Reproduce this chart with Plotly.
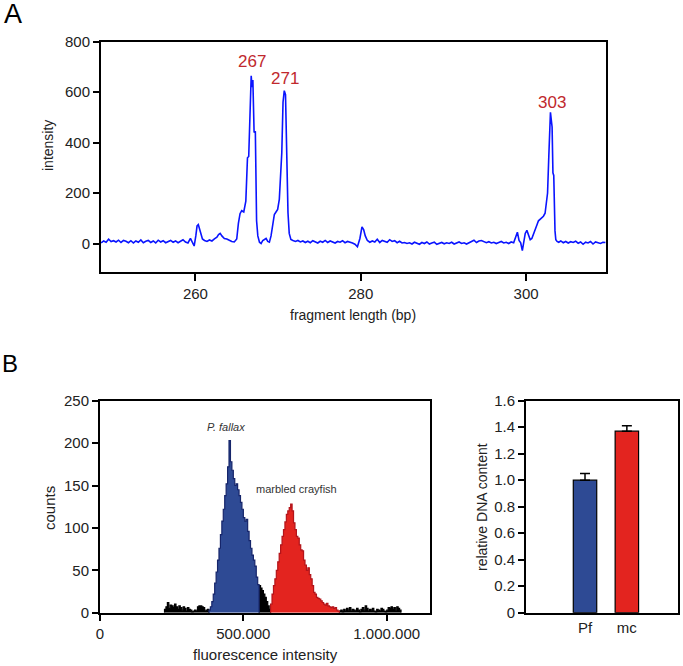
import plotly.graph_objects as go

# ---------------- Panel A data: capillary electrophoresis trace ----------------
frag_bp = [
    248.6, 248.9, 249.2, 249.5, 249.8, 250.1, 250.4, 250.7, 251.0, 251.3, 251.6, 251.9,
    252.2, 252.5, 252.8, 253.1, 253.4, 253.7, 254.0, 254.3, 254.6, 254.9, 255.2, 255.5,
    255.8, 256.1, 256.4, 256.7, 257.0, 257.3, 257.6, 257.9, 258.2, 258.5, 258.8, 259.1,
    259.4, 259.6, 259.85,
    260.05, 260.2, 260.35, 260.5, 260.65, 260.85, 261.1, 261.4, 261.7, 262.0, 262.3, 262.6,
    262.8, 263.0, 263.2, 263.5, 263.8, 264.1, 264.4, 264.7, 265.0, 265.2, 265.4, 265.6,
    265.85, 266.1, 266.3, 266.45, 266.6, 266.75, 266.85, 266.95, 267.1, 267.25, 267.4,
    267.55, 267.75, 267.95, 268.15, 268.35, 268.55, 268.75, 268.95, 269.15, 269.35, 269.55,
    269.75, 269.95, 270.15, 270.3, 270.45, 270.6, 270.75, 270.9, 271.05, 271.2, 271.35,
    271.55, 271.8, 272.1, 272.4, 272.7, 273.0, 273.3, 273.6, 273.9, 274.2, 274.5, 274.8,
    275.1, 275.4, 275.7, 276.0, 276.3, 276.6, 276.9, 277.2, 277.5, 277.8, 278.1, 278.4,
    278.7, 279.0, 279.3, 279.6, 279.9, 280.15, 280.35, 280.55, 280.8, 281.1, 281.4, 281.7,
    282.0, 282.3, 282.6, 282.9, 283.2, 283.5, 283.8, 284.1, 284.4, 284.7, 285.0, 285.3,
    285.6, 285.9, 286.2, 286.5, 286.8, 287.1, 287.4, 287.7, 288.0, 288.3, 288.6, 288.9,
    289.2, 289.5, 289.8, 290.1, 290.4, 290.7, 291.0, 291.3, 291.6, 291.9, 292.2, 292.5,
    292.8, 293.1, 293.4, 293.7, 294.0, 294.3, 294.6, 294.9, 295.2, 295.5, 295.8, 296.1,
    296.4, 296.7, 297.0, 297.3, 297.6, 297.9, 298.2, 298.5, 298.75, 298.95, 299.15, 299.35,
    299.55, 299.75, 299.9, 300.1, 300.3, 300.5, 300.7, 300.9, 301.1, 301.3, 301.5, 301.7,
    301.9, 302.1, 302.3, 302.45, 302.6, 302.75, 302.85, 302.95, 303.05, 303.15, 303.25,
    303.35, 303.5, 303.6, 303.75, 303.95, 304.2, 304.5, 304.8, 305.1, 305.4, 305.7, 306.0,
    306.3, 306.6, 306.9, 307.2, 307.5, 307.8, 308.1, 308.4, 308.7, 309.0, 309.3, 309.6,
]
intensity = [
    2, 10, 5, 17, 8, 11, 6, 13, 4, 12, 9, 3,
    11, 2, 10, 5, 14, 3, 9, 12, 4, 10, 2, 13,
    6, 11, 3, 9, 12, 5, 10, 3, 8, 15, 6, 2,
    20, 8, -10,
    30, 70, 75, 60, 40, 18, 12, 8, 14, 10, 18, 25,
    35, 40, 30, 20, 18, 12, 8, 6, 18, 80, 118, 130,
    125, 168, 340, 345, 565, 665, 620, 648, 440, 445, 90,
    30, 5, 0, 12, 18, 20, 8, 5, 30, 65, 115,
    125, 135, 175, 290, 360, 560, 606, 590, 345, 122, 40,
    16, 12, 8, 12, 6, 10, 4, 9, 3, 11, 7, 2,
    9, 5, 12, 4, 10, 6, 2, 8, 5, 11, 3, 8,
    6, 2, -3, -13, 20, 66, 55, 30, 12, 5, 10, 6,
    17, 4, 12, 9, 5, 15, 8, 11, 3, 9, 2, 4,
    0, 3, -2, 5, 1, -3, 4, 0, 6, -2, 2, 5,
    -3, 1, 4, -1, 3, 0, 5, -2, 2, 6, 0, 3,
    -2, 4, 9, 13, 4, 10, 12, 6, 3, 7, 2, 5,
    0, 4, 8, 2, 5, 0, 6, 3, 32, 45, 12, 3,
    -28, 10, 40, 52, 35, 15, 20, 40, 60, 72, 90, 96,
    100, 108, 120, 175, 200, 345, 500, 520, 490, 462, 280,
    270, 50, 15, 8, 5, 10, 3, 8, 2, 7, 4, 9,
    1, 6, -3, 5, 2, 8, -2, 6, 3, 0, 5, 4,
]
peak_labels = ["267", "271", "303"]
peak_pos = [266.8, 270.85, 303.1]
peak_label_y = [720, 655, 560]

# ---------------- Panel B data: flow cytometry histogram ----------------
bin_width = 5000
black_left_start = 225000
black_left_counts = [4, 7, 12, 5, 9, 8, 6, 10, 7, 4, 8, 6, 3, 7, 5, 2, 6, 4, 3, 1,
                     2, 3, 2, 7, 8, 8, 7, 6, 2, 3, 4]
blue_start = 380000
blue_counts = [3, 7, 13, 22, 35, 48, 62, 76, 92, 108, 122, 138, 152, 172, 203, 178,
               168, 158, 150, 152, 145, 138, 130, 122, 112, 108, 110, 96, 85, 76, 68,
               62, 55, 42, 33]
black_mid_start = 555000
black_mid_counts = [32, 29, 26, 22, 18, 13, 8, 4]
red_start = 595000
red_counts = [10, 22, 32, 40, 50, 60, 70, 80, 90, 98, 107, 116, 120, 124, 128, 120,
              106, 98, 90, 88, 80, 74, 73, 62, 56, 50, 53, 45, 40, 32, 24, 22, 18,
              17, 16, 14, 12, 10, 9, 11, 8, 7, 6, 7, 5, 6, 3, 2]
black_right_start = 835000
black_right_counts = [2, 3, 1, 4, 2, 5, 3, 6, 2, 4, 3, 2, 5, 3, 1, 4, 6, 3, 8, 5,
                      2, 4, 3, 5, 2, 1, 4, 3, 2, 5, 4, 2, 1, 3, 6, 5, 7, 4, 6, 2, 7, 5, 3]

# ---------------- Panel B data: relative DNA content ----------------
species = ["Pf", "mc"]
species_pos = [1, 2]
dna_content = [1.00, 1.37]
dna_err = [0.05, 0.04]

BLUE_FILL = "#2e4a94"
BLUE_EDGE = "#16256a"
RED_FILL = "#e3241f"
RED_EDGE = "#b3141a"
FONT = "Liberation Sans, Arial, Helvetica, sans-serif"
TXT = "#222222"

W = 683
H = 666


def px_x(x):
    return x / W


def px_y(y):
    return 1 - y / H


fig = go.Figure()

fig.add_trace(go.Scatter(x=frag_bp, y=intensity, mode="lines",
                         line=dict(color="#0a14ff", width=1.6),
                         xaxis="x", yaxis="y", showlegend=False, hoverinfo="skip"))


def step_xy(start, counts):
    xs = [start]
    ys = [0]
    for i, c in enumerate(counts):
        xs.append(start + i * bin_width)
        ys.append(c)
    end = start + len(counts) * bin_width
    xs += [end, end]
    ys += [counts[-1], 0]
    return xs, ys


segments = [
    (black_left_start, black_left_counts, "black", "black"),
    (black_mid_start, black_mid_counts, "black", "black"),
    (black_right_start, black_right_counts, "black", "black"),
    (blue_start, blue_counts, BLUE_FILL, BLUE_EDGE),
    (red_start, red_counts, RED_FILL, RED_EDGE),
]
for start, counts, fillc, edgec in segments:
    xs, ys = step_xy(start, counts)
    fig.add_trace(go.Scatter(x=xs, y=ys, mode="lines", line_shape="hv",
                             line=dict(color=edgec, width=1.2), fill="tozeroy",
                             fillcolor=fillc, xaxis="x2", yaxis="y2",
                             showlegend=False, hoverinfo="skip"))

fig.add_trace(go.Bar(x=species_pos, y=dna_content, width=0.56,
                     marker=dict(color=[BLUE_FILL, RED_FILL], line=dict(color="black", width=1.2)),
                     error_y=dict(type="data", array=dna_err, arrayminus=[0, 0], symmetric=False,
                                  color="black", thickness=1.5, width=5),
                     xaxis="x3", yaxis="y3", showlegend=False, hoverinfo="skip"))

axis_common = dict(showline=True, mirror=True, linecolor="black", linewidth=2,
                   showgrid=False, zeroline=False, ticks="outside", tickcolor="black",
                   tickwidth=2, automargin=False,
                   tickfont=dict(family=FONT, size=15, color=TXT))

fig.update_layout(
    template="none",
    width=W, height=H, margin=dict(l=0, r=0, t=0, b=0, pad=0),
    paper_bgcolor="white", plot_bgcolor="white",
    font=dict(family=FONT, color=TXT),
    xaxis=dict(domain=[px_x(101), px_x(606)], range=[248.58, 309.67],
               tickvals=[260, 280, 300], ticklen=7, anchor="y", **axis_common),
    yaxis=dict(domain=[px_y(272), px_y(41.7)], range=[-113, 800],
               tickvals=[0, 200, 400, 600, 800], ticklen=6, anchor="x", **axis_common),
    xaxis2=dict(domain=[px_x(100), px_x(430)], range=[0, 1151000],
                tickvals=[0, 500000, 1000000], ticktext=["0", "500.000", "1.000.000"],
                ticklen=6, anchor="y2", **axis_common),
    yaxis2=dict(domain=[px_y(612.7), px_y(400.7)], range=[0, 250],
                tickvals=[0, 50, 100, 150, 200, 250], ticklen=6, anchor="x2", **axis_common),
    xaxis3=dict(domain=[px_x(526), px_x(678)], range=[-0.41, 3.222],
                tickvals=species_pos, ticktext=species, anchor="y3",
                **{**axis_common, "ticks": ""}),
    yaxis3=dict(domain=[px_y(612.7), px_y(400.7)], range=[0, 1.6],
                tickvals=[0, 0.2, 0.4, 0.6, 0.8, 1.0, 1.2, 1.4, 1.6],
                ticktext=["0", "0.2", "0.4", "0.6", "0.8", "1.0", "1.2", "1.4", "1.6"],
                ticklen=6, anchor="x3", **axis_common),
)

ann = []
for lab, px, py in zip(peak_labels, peak_pos, peak_label_y):
    ann.append(dict(x=px, y=py, xref="x", yref="y", text=lab, showarrow=False,
                    xanchor="center", yanchor="middle",
                    font=dict(family=FONT, size=17, color="#c0282d")))


def paper_text(text, x, y, size, angle=0, **kw):
    ann.append(dict(x=px_x(x), y=px_y(y), xref="paper", yref="paper", text=text,
                    showarrow=False, textangle=angle, xanchor="center", yanchor="middle",
                    font=dict(family=FONT, size=size, color=kw.get("color", TXT))))


paper_text("A", 13, 14, 27, color="black")
paper_text("B", 10, 363, 24, color="black")
paper_text("intensity", 48, 146, 14, angle=-90)
paper_text("fragment length (bp)", 353, 315, 14)
paper_text("<i>P. fallax</i>", 226, 427, 11, color="#333333")
paper_text("marbled crayfish", 296, 489, 11, color="#333333")
paper_text("counts", 49, 508, 15, angle=-90)
paper_text("fluorescence intensity", 265, 654, 15)
paper_text("relative DNA content", 482, 507, 14, angle=-90)

fig.update_layout(annotations=ann)
# remove the default 8px page margin so the figure fills the window exactly
fig.write_html("out.html", config={"displayModeBar": False, "staticPlot": True},
               post_script="document.body.style.margin='0';")
